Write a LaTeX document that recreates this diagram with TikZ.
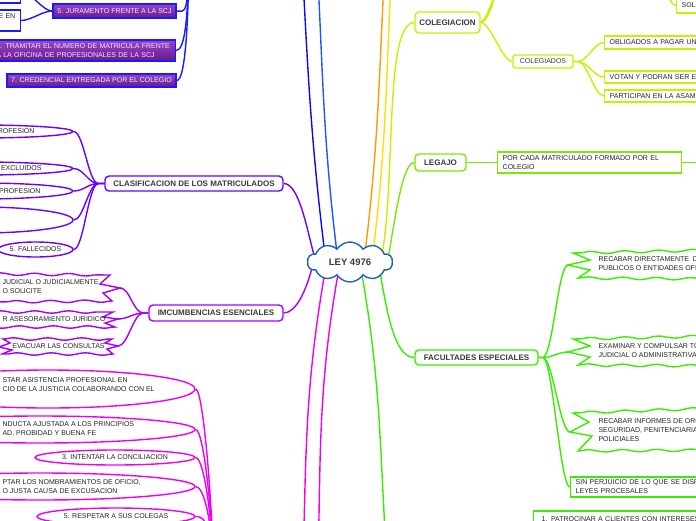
\documentclass[tikz,border=0pt]{standalone}
\usepackage{fontspec}
\setmainfont{Liberation Sans}
\usetikzlibrary{shapes.geometric,shapes.symbols,backgrounds,decorations.pathmorphing}

\definecolor{inkgray}{HTML}{3A3A3A}
\definecolor{cloudblue}{HTML}{1F63B0}
\definecolor{dblue}{HTML}{0A0AEE}
\definecolor{lblue}{HTML}{1F55FF}
\definecolor{tblue}{HTML}{1A1AFF}
\definecolor{orng}{HTML}{FF9A00}
\definecolor{yllw}{HTML}{FFE000}
\definecolor{colime}{HTML}{C8F000}
\definecolor{lgreen}{HTML}{7CEA00}
\definecolor{fgreen}{HTML}{38EE00}
\definecolor{clsviolet}{HTML}{6A00FF}
\definecolor{imcpurple}{HTML}{A300FF}
\definecolor{magpink}{HTML}{F000F0}
\definecolor{ptop}{HTML}{9546C4}
\definecolor{pbot}{HTML}{6A1A8E}
\definecolor{ptext}{HTML}{F3E6FF}

\tikzset{
  every node/.style={font=\fontsize{7}{9}\selectfont, text=black!85},
  topic/.style={draw, line width=1.4pt, rounded corners=4pt, fill=white, inner sep=0pt,
    font=\bfseries\fontsize{8}{9}\selectfont, text=inkgray},
  leaf/.style={draw, line width=1.4pt, fill=white, inner xsep=5pt, inner ysep=0pt,
    align=left, anchor=west},
  pbox/.style={draw=tblue, line width=1.4pt, top color=ptop, bottom color=pbot,
    text=ptext, inner xsep=4pt, inner ysep=0pt},
  oval/.style={draw, ellipse, line width=1.4pt, fill=white, inner sep=0pt},
  link/.style={line width=1.4pt},
  jag/.style={line width=1.4pt, decoration={snake, amplitude=1.2pt, segment length=34pt}},
  fanr/.style={out=0, in=180, out distance=10pt, in distance=10pt},
  fanl/.style={out=180, in=0, out distance=10pt, in distance=10pt},
  riseup/.style={out=0, in=-90, out distance=9pt, in distance=90pt},
  sink/.style={out=0, in=90, out distance=8pt, in distance=80pt},
}

\begin{document}
\begin{tikzpicture}[x=1pt,y=1pt]
\useasboundingbox (0,0) rectangle (696,-520);

\node[cloud, cloud puffs=10, cloud puff arc=115, aspect=2.1, draw=cloudblue, line width=1.4pt,
  fill=white, minimum width=85pt, minimum height=40pt, inner sep=0pt,
  font=\bfseries\fontsize{9.5}{10}\selectfont, text=inkgray] (ley) at (350,-262) {LEY 4976};

% top left
\node[leaf, draw=tblue, anchor=east, minimum width=70pt, minimum height=23pt] (ent1) at (21,8.5) {};
\node[leaf, draw=tblue, anchor=east, text width=60pt, align=right, minimum height=21pt] (ent2) at (21,-20.5) {E EN\\\phantom{E}};
\node[pbox, minimum width=123pt, minimum height=14pt] (jur) at (114.5,-11) {5. JURAMENTO FRENTE A LA SCJ};
\node[pbox, anchor=east, text width=175pt, align=left, minimum height=21pt] (tram) at (176,-50.5)
  {6. TRAMITAR EL NUMERO DE MATRICULA FRENTE\\A LA OFICINA DE PROFESIONALES DE LA SCJ};
\node[pbox, minimum width=169pt, minimum height=13pt] (cred) at (91.5,-80.5) {7. CREDENCIAL ENTREGADA POR EL COLEGIO};
\coordinate (grpA) at (189,70);

% clasificacion
\node[topic, draw=clsviolet, minimum width=178pt, minimum height=15pt] (clas) at (194,-183.5) {CLASIFICACION DE LOS MATRICULADOS};
\node[oval, draw=clsviolet, minimum width=186pt, minimum height=13pt] (cl1) at (-20,-131.5) {};
\node[anchor=east] (cl1t) at (38,-131.5) {PROFESION};
\node[oval, draw=clsviolet, minimum width=186pt, minimum height=13pt] (cl2) at (-20,-168.5) {};
\node[anchor=east] (cl2t) at (45,-168.5) {O EXCLUIDOS};
\node[oval, draw=clsviolet, minimum width=186pt, minimum height=16pt] (cl3) at (-20,-191) {};
\node[anchor=east] (cl3t) at (44,-191) {A PROFESION};
\node[oval, draw=clsviolet, minimum width=186pt, minimum height=26pt] (cl4) at (-20,-220) {};
\node[oval, draw=clsviolet, minimum width=75pt, minimum height=15pt] (cl5) at (35.5,-249.5) {5. FALLECIDOS};

% imcumbencias
\node[topic, draw=imcpurple, minimum width=134pt, minimum height=16pt] (imc) at (216,-313) {IMCUMBENCIAS ESENCIALES};
\draw[jag, draw=imcpurple] (-10,-274) decorate {-- (110,-275)} -- (100,-284) -- (120,-288) coordinate (ib1)
  -- (103,-293) -- (112,-301) decorate {-- (-10,-302)};
\node[anchor=west, align=left] (ib1t) at (-1,-287) {JUDICIAL O JUDICIALMENTE\\O SOLICITE};
\draw[jag, draw=imcpurple] (-10,-312) decorate {-- (113,-312)} -- (103,-317) -- (118,-319) coordinate (ib2)
  -- (105,-323) -- (115,-327) decorate {-- (-10,-327)};
\node[anchor=west] (ib2t) at (-1,-319) {R ASESORAMIENTO JURIDICO};
\draw[jag, draw=imcpurple] (3,-339) decorate {-- (112,-339)} -- (105,-343) -- (118,-346) coordinate (ib3)
  -- (107,-349) -- (113,-354) decorate {-- (2,-354)} -- (12,-350) -- (-1,-347) -- (10,-343) -- cycle;
\node (ib3t) at (58.5,-346) {EVACUAR LAS CONSULTAS};

% deberes
\node[oval, draw=magpink, minimum width=294pt, minimum height=38pt] (mg1) at (48,-389) {};
\node[anchor=west, align=left] (mg1t) at (-1,-385) {STAR ASISTENCIA PROFESIONAL EN\\CIO DE LA JUSTICIA COLABORANDO CON EL};
\node[oval, draw=magpink, minimum width=310pt, minimum height=27pt] (mg2) at (40,-429.5) {};
\node[anchor=west, align=left] (mg2t) at (-1,-429) {NDUCTA AJUSTADA A LOS PRINCIPIOS\\AD, PROBIDAD Y BUENA FE};
\node[oval, draw=magpink, minimum width=160pt, minimum height=15pt] (mg3) at (115,-457.5) {3. INTENTAR LA CONCILIACION};
\node[oval, draw=magpink, minimum width=310pt, minimum height=27pt] (mg4) at (40,-486.5) {};
\node[anchor=west, align=left] (mg4t) at (-1,-486.5) {PTAR LOS NOMBRAMIENTOS DE OFICIO,\\O JUSTA CAUSA DE EXCUSACION};
\node[oval, draw=magpink, minimum width=158pt, minimum height=17pt] (mg5) at (116,-516.5) {5. RESPETAR A SUS COLEGAS};
\coordinate (magP) at (214,-600);

% colegiacion
\node[topic, draw=colime, minimum width=65pt, minimum height=21pt] (col) at (447.5,-22.5) {COLEGIACION};
\node[topic, draw=colime, rounded corners=2pt, font=\fontsize{7}{8}\selectfont, minimum width=60pt, minimum height=13pt] (cdos) at (543,-61.5) {COLEGIADOS};
\node[leaf, draw=colime, text width=120pt, minimum height=13pt] (cob) at (604,-42.5) {OBLIGADOS A PAGAR UNA};
\node[leaf, draw=colime, text width=120pt, minimum height=12pt] (cvo) at (604,-77) {VOTAN Y PODRAN SER EL};
\node[leaf, draw=colime, text width=120pt, minimum height=12pt] (cpa) at (604,-96) {PARTICIPAN EN LA ASAMB};
\node[leaf, draw=colime, text width=40pt, minimum height=15pt] (csol) at (676,-5.5) {SOL};
\coordinate (cup1) at (498,25);
\coordinate (cup2) at (503,45);
\coordinate (cup3) at (509,65);
\coordinate (solP) at (662,40);

% legajo
\node[topic, draw=lgreen, minimum width=51pt, minimum height=17pt] (leg) at (440.5,-162.5) {LEGAJO};
\node[leaf, draw=lgreen, text width=174pt, minimum height=21pt] (lcol) at (497,-162.5) {POR CADA MATRICULADO FORMADO POR EL\\COLEGIO};
\coordinate (legR) at (720,-162.5);

% facultades
\node[topic, draw=fgreen, minimum width=123pt, minimum height=15pt] (fac) at (476.5,-357.5) {FACULTADES ESPECIALES};
\draw[jag, draw=fgreen] (720,-250) decorate {-- (573,-253)} -- (590,-260) -- (568,-265) coordinate (fb1)
  -- (590,-270) -- (578,-278) decorate {-- (720,-279)};
\node[anchor=west, align=left] (fb1t) at (595,-263.5) {RECABAR DIRECTAMENTE~ DE\\PUBLICOS O ENTIDADES OFIC};
\draw[jag, draw=fgreen] (720,-336) decorate {-- (573,-339)} -- (590,-346) -- (568,-352) coordinate (fb2)
  -- (590,-357) -- (578,-365) decorate {-- (720,-366)};
\node[anchor=west, align=left] (fb2t) at (595,-351) {EXAMINAR Y COMPULSAR TO\\JUDICIAL O ADMINISTRATIVA};
\draw[jag, draw=fgreen] (720,-408) decorate {-- (573,-413)} -- (589,-422) -- (570,-432) coordinate (fb3)
  -- (592,-436) -- (578,-451) decorate {-- (720,-450)};
\node[anchor=west, align=left] (fb3t) at (595,-430) {RECABAR INFORMES DE ORG\\SEGURIDAD, PENITENCIARIAS\\POLICIALES};
\node[leaf, draw=fgreen, text width=150pt, minimum height=20pt] (fsin) at (570,-487) {SIN PERJUICIO DE LO QUE SE DISPO\\LEYES PROCESALES};
\node[leaf, draw=fgreen, inner xsep=8pt, text width=160pt, minimum height=16pt] (fpat) at (533,-519) {1. PATROCINAR A CLIENTES CON INTERESES};

\coordinate (upA) at (302,40);
\coordinate (upB) at (317,40);
\coordinate (upC) at (385,40);
\coordinate (upD) at (392,40);
\coordinate (dnA) at (302,-600);
\coordinate (dnB) at (317,-600);
\coordinate (dnC) at (390,-600);

\begin{scope}[on background layer]
\draw[link, dblue] ([shift={(-25,7)}]ley.center) to[out=97,in=-87] (upA);
\draw[link, lblue] ([shift={(-13,9)}]ley.center) to[out=97,in=-87] (upB);
\draw[link, orng] ([shift={(15,9)}]ley.center) to[out=83,in=-93] (upC);
\draw[link, yllw] ([shift={(23,9)}]ley.center) to[out=83,in=-93] (upD);
\draw[link, colime] ([shift={(32,7)}]ley.center) to[out=80,in=180,out distance=80pt,in distance=30pt] (col.west);
\draw[link, lgreen] ([shift={(38,3)}]ley.center) to[out=80,in=180,out distance=40pt,in distance=12pt] (leg.west);
\draw[link, fgreen] ([shift={(30,-10)}]ley.center) to[out=-80,in=180,out distance=40pt,in distance=20pt] (fac.west);
\draw[link, fgreen] ([shift={(12,-13)}]ley.center) to[out=-80,in=95] (dnC);
\draw[link, magpink] ([shift={(-25,-10)}]ley.center) to[out=-100,in=88] (dnA);
\draw[link, magpink] ([shift={(-12,-12)}]ley.center) to[out=-100,in=88] (dnB);
\draw[link, clsviolet] ([shift={(-36,7)}]ley.center) to[out=105,in=0,out distance=30pt,in distance=15pt] (clas.east);
\draw[link, imcpurple] ([shift={(-38,-6)}]ley.center) to[out=-105,in=0,out distance=25pt,in distance=12pt] (imc.east);

\draw[link, tblue] (jur.east) to[riseup] (grpA);
\draw[link, tblue] (tram.east) to[riseup] (grpA);
\draw[link, tblue] (cred.east) to[riseup] (grpA);
\draw[link, tblue] (jur.west) to[fanl] (ent1.east);
\draw[link, tblue] (jur.west) to[fanl] (ent2.east);

\foreach \c in {cl1,cl2,cl3,cl4,cl5}
  \draw[link, clsviolet] (clas.west) -- ++(-6,0) to[fanl] (\c.east);
\foreach \c in {ib1,ib2,ib3}
  \draw[link, imcpurple] (imc.west) -- ++(-5,0) to[fanl] (\c);
\foreach \c in {mg1,mg2,mg3,mg4,mg5}
  \draw[link, magpink] (\c.east) to[sink] (magP);

\draw[link, colime] (col.east) to[out=0,in=-90,out distance=8pt,in distance=15pt] (cup1);
\draw[link, colime] (col.east) to[out=0,in=-90,out distance=8pt,in distance=15pt] (cup2);
\draw[link, colime] (col.east) to[out=0,in=-90,out distance=8pt,in distance=15pt] (cup3);
\draw[link, colime] (col.east) to[fanr] (cdos.west);
\foreach \c in {cob,cvo,cpa}
  \draw[link, colime] (cdos.east) -- ++(4,0) to[fanr] (\c.west);
\draw[link, colime] (solP) to[out=-90,in=180,out distance=15pt,in distance=8pt] (csol.west);

\draw[link, lgreen] (leg.east) -- (lcol.west);
\draw[link, lgreen] (lcol.east) -- (legR);

\foreach \c in {fb1,fb2,fb3}
  \draw[link, fgreen] (fac.east) -- ++(4,0) to[fanr] (\c);
\draw[link, fgreen] (fac.east) -- ++(4,0) to[fanr] (fsin.west);
\end{scope}
\end{tikzpicture}
\end{document}
